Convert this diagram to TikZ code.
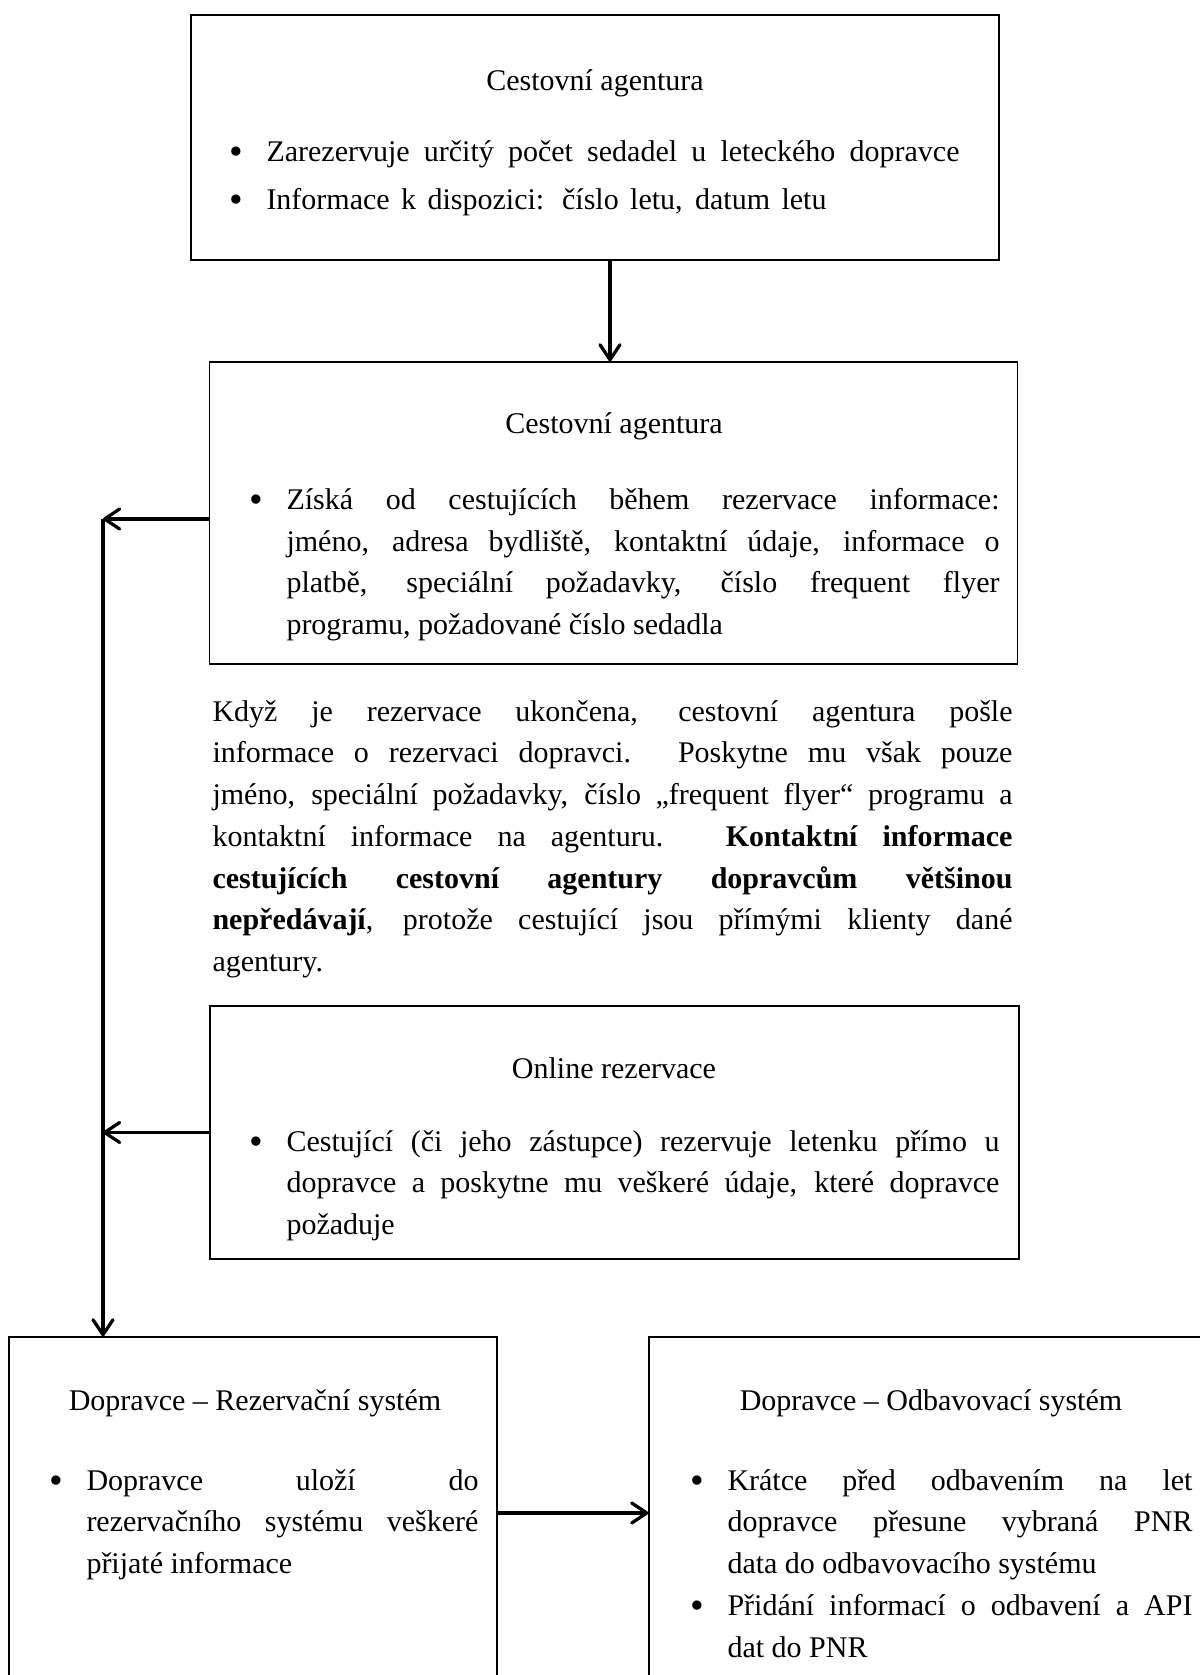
\documentclass[tikz,border=0pt]{standalone}
\usepackage{fontspec}
\setmainfont{Liberation Serif}
\usetikzlibrary{arrows.meta}
\newlength\px
\setlength\px{0.4pt}
% justified line of given width (in px)
\newcommand\jline[2]{\makebox[#1\px][s]{#2}}
\newcommand\bul{\llap{\raisebox{-3\px}{\scalebox{1.3}{\textbullet}}\hspace{23\px}}}
\tikzstyle{box}=[
    draw,
    line width = 0.5pt,
    rectangle,
    inner sep = 0pt
]
\tikzstyle{head}=[anchor = base, inner sep = 0pt, font = \fontsize{12}{16.7}\selectfont]
% placed at the baseline of the first line
\tikzstyle{body}=[anchor = north west, yshift = 0.7*16.7pt, align = left, inner sep = 0pt,
    font = \fontsize{12}{16.7}\selectfont, execute at begin node = \strut]

\begin{document}
\begin{tikzpicture}[x=0.4pt, y=-0.4pt, arr/.style = {line width = 1.3pt, -{Straight Barb[length=6pt, width=8pt, round]}}]
        \useasboundingbox (0,0) rectangle (1200,1675);
        \clip (0,0) rectangle (1200,1675);

        % boxes
        \node[box, minimum width=808\px, minimum height=245\px] (ag1) at (595,137.5) {};
        \node[box, minimum width=808\px, minimum height=302\px] (ag2) at (613.5,513) {};
        \node[box, minimum width=809\px, minimum height=253\px] (online) at (614.5,1132.5) {};
        \node[box, minimum width=488\px, minimum height=352\px] (rs) at (253,1513) {};
        \node[box, minimum width=570\px, minimum height=352\px] (ob) at (934,1513) {};

        % texts
        \node[head] (ag1h) at (595,90) {Cestovní agentura};
        \node[body] (ag1t) at (266,169) {\bul\jline{693}{Zarezervuje určitý počet sedadel u leteckého dopravce}\\[2.5pt]
            \bul\jline{560}{Informace k dispozici: číslo letu, datum letu}};

        \node[head] (ag2h) at (614,433) {Cestovní agentura};
        \node[body] (ag2t) at (286,517) {\bul\jline{713}{Získá od cestujících během rezervace informace:}\\
            \jline{713}{jméno, adresa bydliště, kontaktní údaje, informace o}\\
            \jline{713}{platbě, speciální požadavky, číslo frequent flyer}\\
            programu, požadované číslo sedadla};

        \node[body] (popis) at (212,729) {\jline{800}{Když je rezervace ukončena, cestovní agentura pošle}\\
            \jline{800}{informace o rezervaci dopravci. Poskytne mu však pouze}\\
            \jline{800}{jméno, speciální požadavky, číslo „frequent flyer“ programu a}\\
            \jline{800}{kontaktní informace na agenturu. \textbf{Kontaktní informace}}\\
            \jline{800}{\textbf{cestujících cestovní agentury dopravcům většinou}}\\
            \jline{800}{\textbf{nepředávají}, protože cestující jsou přímými klienty dané}\\
            agentury.};

        \node[head] (onlineh) at (614,1078) {Online rezervace};
        \node[body] (onlinet) at (286,1159) {\bul\jline{713}{Cestující (či jeho zástupce) rezervuje letenku přímo u}\\
            \jline{713}{dopravce a poskytne mu veškeré údaje, které dopravce}\\
            požaduje};

        \node[head] (rsh) at (255,1410) {Dopravce – Rezervační systém};
        \node[body] (rst) at (86,1498) {\bul\jline{392}{Dopravce uloží do}\\
            \jline{392}{rezervačního systému veškeré}\\
            přijaté informace};

        \node[head] (obh) at (931,1410) {Dopravce – Odbavovací systém};
        \node[body] (obt) at (727,1498) {\bul\jline{465}{Krátce před odbavením na let}\\
            \jline{465}{dopravce přesune vybraná PNR}\\
            data do odbavovacího systému\\
            \bul\jline{465}{Přidání informací o odbavení a API}\\
            dat do PNR};

        % connectors
        \coordinate (bus) at (103,519);
        \draw[arr] (610,0 |- ag1.south) -- (610,0 |- ag2.north);
        \draw[arr] (ag2.west |- bus) -- (bus);
        \draw[arr] (online.west) -- (online.west -| bus);
        \draw[arr] (bus) -- (rs.north -| bus);
        \draw[arr] (rs.east) -- (ob.west);

    \end{tikzpicture}
\end{document}
